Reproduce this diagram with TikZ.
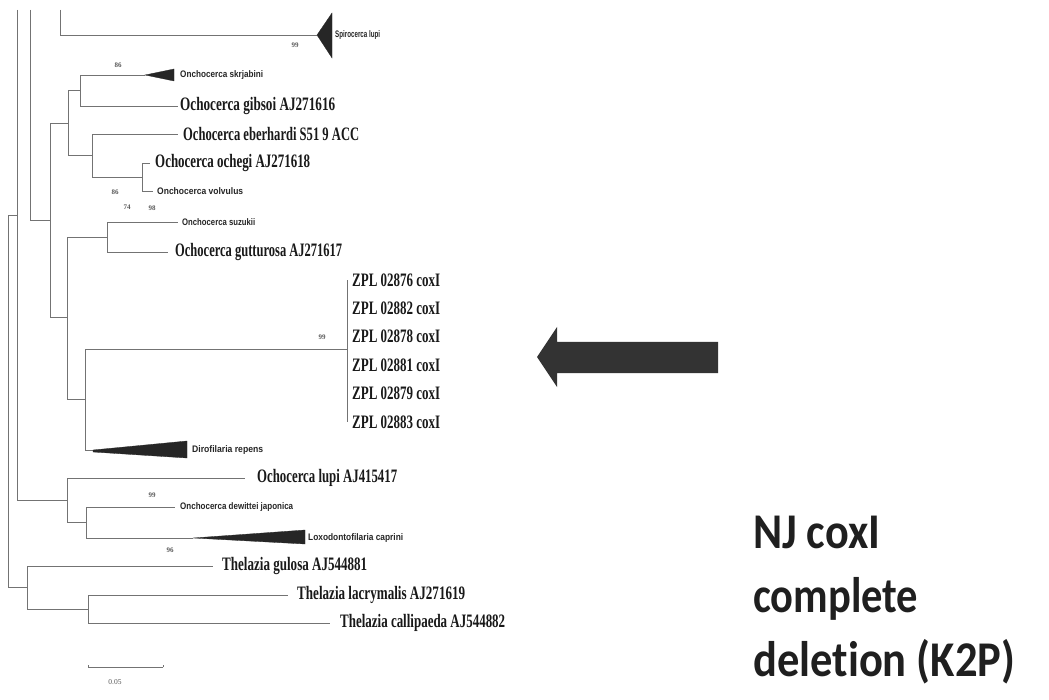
\documentclass[tikz,border=0pt]{standalone}
\usepackage{fontspec}
\setmainfont{Liberation Serif}
\newfontfamily\lsans{Liberation Sans}
\newfontfamily\carl[Ligatures=NoCommon]{Carlito}
\usepackage{graphicx}
\newcommand\fw[2]{\resizebox{#1pt}{\height}{#2}}
\tikzset{
  br/.style={draw=black!55, line width=0.8pt},
  clade/.style={fill=black!85, draw=black!85, line width=0.3pt},
  biglab/.style={anchor=west, inner sep=0pt, font=\fontsize{19}{19}\selectfont\bfseries, text=black!90},
  smlab/.style={anchor=west, inner sep=0pt, font=\lsans\bfseries\fontsize{9.5}{9.5}\selectfont, text=black!85},
  boot/.style={inner sep=0pt, font=\fontsize{7}{7}\selectfont\bfseries, text=black!65},
  titlelab/.style={anchor=base west, inner sep=0pt, font=\carl\bfseries\fontsize{50}{50}\selectfont, text=black!88},
}
\begin{document}
\begin{tikzpicture}[x=1pt,y=-1pt]
\useasboundingbox (0,0) rectangle (1049,700);
\fill[white] (0,0) rectangle (1049,700);

% internal nodes
\coordinate (top17) at (17,10);
\coordinate (top30) at (30,10);
\coordinate (top60) at (60,10);
\coordinate (r8) at (8,401);
\coordinate (j17) at (17,215);
\coordinate (n27) at (27,587);
\coordinate (n88) at (88,609);
\coordinate (n50) at (50,220);
\coordinate (n68) at (68,123);
\coordinate (n80) at (80,90);
\coordinate (n92) at (92,155);
\coordinate (n142) at (142,177);
\coordinate (n67a) at (67,317);
\coordinate (n107) at (107,237);
\coordinate (n85) at (85,399);
\coordinate (n347) at (347,349);
\coordinate (n67b) at (67,500);
\coordinate (n86) at (86,522);

% leaf ends
\coordinate (spi) at (317,35);
\coordinate (skr) at (145,75);
\coordinate (gib) at (178,106);
\coordinate (ebe) at (178,134);
\coordinate (och) at (150,163);
\coordinate (vol) at (153,191);
\coordinate (suz) at (178,222);
\coordinate (gut) at (168,252);
\coordinate (z1) at (347,280);
\coordinate (z2) at (347,308);
\coordinate (z3) at (347,336);
\coordinate (z4) at (347,365);
\coordinate (z5) at (347,393);
\coordinate (z6) at (347,422);
\coordinate (dir) at (93,450);
\coordinate (lup) at (245,478);
\coordinate (dew) at (175,507);
\coordinate (cap) at (193,538);
\coordinate (gul) at (213,566);
\coordinate (lac) at (288,595);
\coordinate (cal) at (330,623);

% branches
\draw[br] (top17) |- (n67b);
\draw[br] (top30) |- (n50);
\draw[br] (top60) |- (spi);
\draw[br] (r8) |- (j17);
\draw[br] (r8) |- (n27);
\draw[br] (n50) |- (n68);
\draw[br] (n50) |- (n67a);
\draw[br] (n68) |- (n80);
\draw[br] (n68) |- (n92);
\draw[br] (n80) |- (skr);
\draw[br] (n80) |- (gib);
\draw[br] (n92) |- (ebe);
\draw[br] (n92) |- (n142);
\draw[br] (n142) |- (och);
\draw[br] (n142) |- (vol);
\draw[br] (n67a) |- (n107);
\draw[br] (n67a) |- (n85);
\draw[br] (n107) |- (suz);
\draw[br] (n107) |- (gut);
\draw[br] (n85) |- (n347);
\draw[br] (n85) |- (dir);
\foreach \z in {z1,z2,z3,z4,z5,z6} \draw[br] (n347) |- (\z);
\draw[br] (n67b) |- (lup);
\draw[br] (n67b) |- (n86);
\draw[br] (n86) |- (dew);
\draw[br] (n86) |- (cap);
\draw[br] (n27) |- (gul);
\draw[br] (n27) |- (n88);
\draw[br] (n88) |- (lac);
\draw[br] (n88) |- (cal);

% collapsed clades
\fill[clade] (spi) -- (332,13) -- (332,58) -- cycle;
\fill[clade] (skr) -- (174,69) -- (174,81) -- cycle;
\fill[clade] (dir) -- (187,441) -- (187,458) -- (93,452) -- cycle;
\fill[clade] (cap) -- (305,530) -- (305,544) -- cycle;

% labels
\node[smlab] (spiL) at (335,35) {\fw{45}{Spirocerca lupi}};
\node[smlab] (skrL) at (180,75) {\fw{83}{Onchocerca skrjabini}};
\node[biglab] (gibL) at (180,106) {\fw{155}{Ochocerca gibsoi AJ271616}};
\node[biglab] (ebeL) at (183,134) {\fw{176}{Ochocerca eberhardi S51 9 ACC}};
\node[biglab] (ochL) at (155,163) {\fw{155}{Ochocerca ochegi AJ271618}};
\node[smlab] (volL) at (157,191) {\fw{86}{Onchocerca volvulus}};
\node[smlab] (suzL) at (182,222) {\fw{73}{Onchocerca suzukii}};
\node[biglab] (gutL) at (175,252) {\fw{167}{Ochocerca gutturosa AJ271617}};
\node[biglab] (z1L) at (352,280) {\fw{88}{ZPL 02876 coxI}};
\node[biglab] (z2L) at (352,308) {\fw{88}{ZPL 02882 coxI}};
\node[biglab] (z3L) at (352,336) {\fw{88}{ZPL 02878 coxI}};
\node[biglab] (z4L) at (352,365) {\fw{88}{ZPL 02881 coxI}};
\node[biglab] (z5L) at (352,393) {\fw{88}{ZPL 02879 coxI}};
\node[biglab] (z6L) at (352,422) {\fw{88}{ZPL 02883 coxI}};
\node[smlab] (dirL) at (192,450) {\fw{71}{Dirofilaria repens}};
\node[biglab] (lupL) at (257,478) {\fw{140}{Ochocerca lupi AJ415417}};
\node[smlab] (dewL) at (180,507) {\fw{113}{Onchocerca dewittei japonica}};
\node[smlab] (capL) at (308,538) {\fw{95}{Loxodontofilaria caprini}};
\node[biglab] (gulL) at (222,566) {\fw{145}{Thelazia gulosa AJ544881}};
\node[biglab] (lacL) at (297,595) {\fw{168}{Thelazia lacrymalis AJ271619}};
\node[biglab] (calL) at (340,623) {\fw{165}{Thelazia callipaeda AJ544882}};

% bootstrap values
\node[boot] (b1) at (295,45) {99};
\node[boot] (b2) at (118,65) {86};
\node[boot] (b3) at (115,192) {86};
\node[boot] (b4) at (127,207) {74};
\node[boot] (b5) at (152,208) {98};
\node[boot] (b6) at (322,337) {99};
\node[boot] (b7) at (152,495) {99};
\node[boot] (b8) at (170,550) {96};

% scale bar
\coordinate (sb1) at (88,667);
\coordinate (sb2) at (163,667);
\draw[br] (sb1) -- (sb2);
\draw[br] (sb1) -- ++(0,-2);
\draw[br] (sb2) -- ++(0,-2);
\node[boot, font=\fontsize{7.5}{7.5}\selectfont] (sbL) at (115,682) {0.05};

% big arrow
\fill[black!80] (537,357) -- (557,327) -- (557,342) -- (718,342) -- (718,373)
  -- (557,373) -- (557,387) -- cycle;

% title
\node[titlelab] (t1) at (753,548) {\fw{127}{NJ coxI}};
\node[titlelab] (t2) at (753,612) {\fw{165}{complete}};
\node[titlelab] (t3) at (753,676) {\fw{262}{deletion (K2P)}};
\end{tikzpicture}
\end{document}
